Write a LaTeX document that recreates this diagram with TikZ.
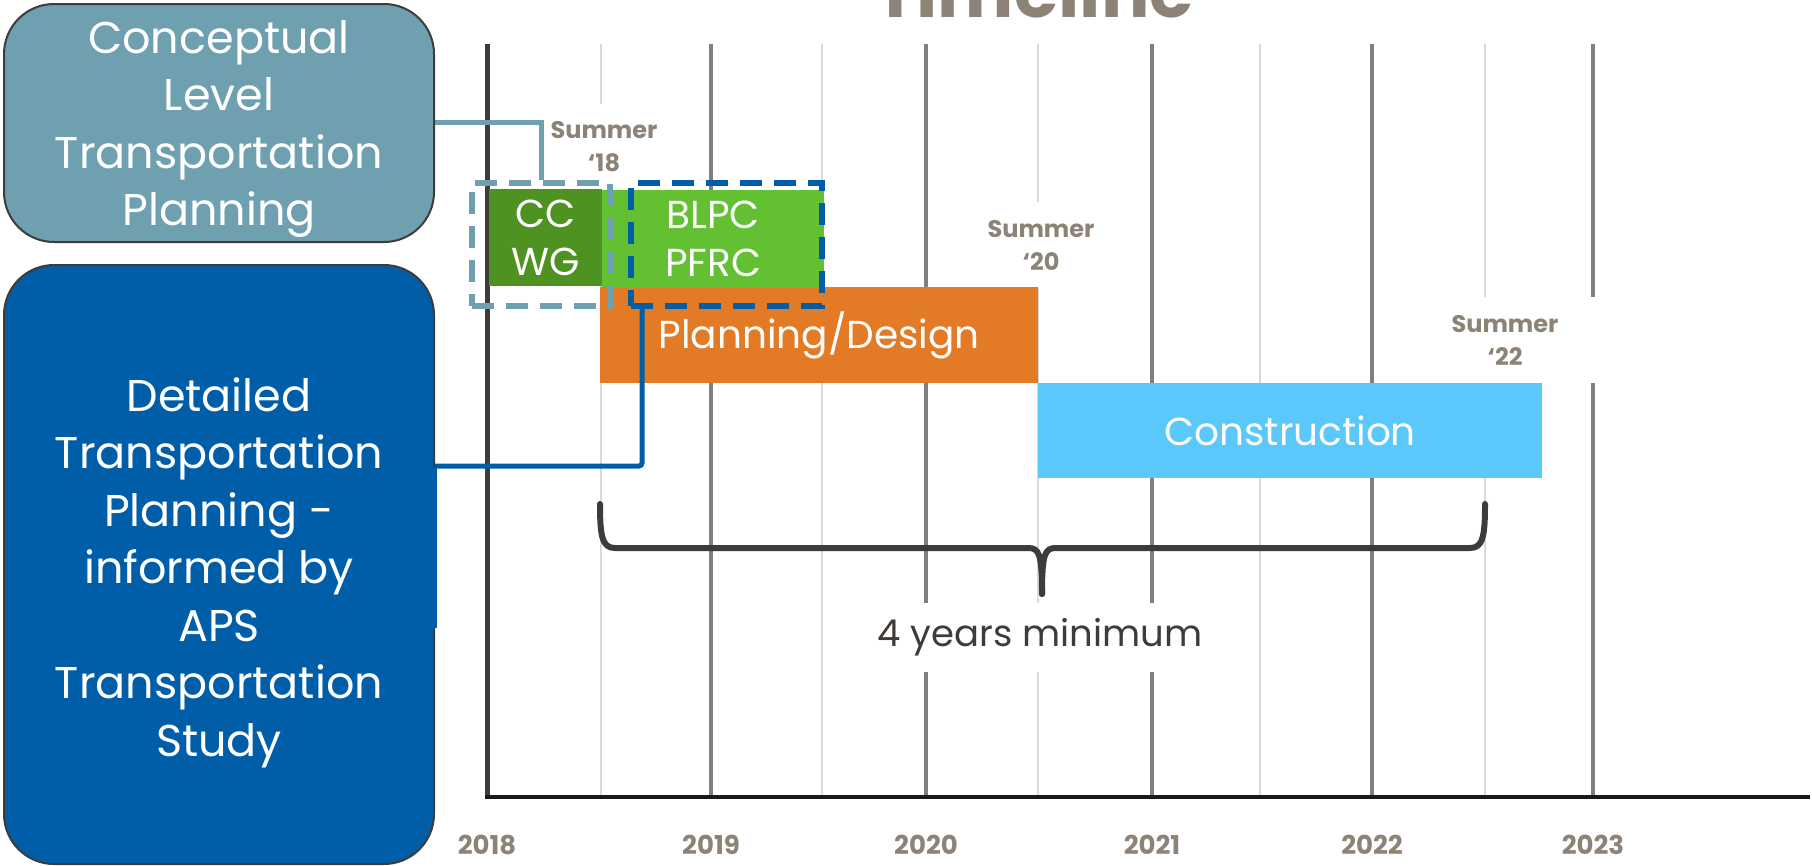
\documentclass[tikz,border=0pt]{standalone}
\usepackage{fontspec}
\setmainfont{Poppins}
\usepackage{tikz}

\definecolor{conceptteal}{HTML}{6FA0AF}
\definecolor{detailblue}{HTML}{005EA8}
\definecolor{ccgreen}{HTML}{4E9222}
\definecolor{blgreen}{HTML}{62C032}
\definecolor{planorange}{HTML}{E37A25}
\definecolor{constrcyan}{HTML}{5BC8FC}
\definecolor{labelgray}{HTML}{8C8276}
\definecolor{yeargray}{HTML}{7F7F7F}
\definecolor{halfgray}{HTML}{D9D9D9}
\definecolor{darkline}{HTML}{3F3B38}

\begin{document}
\begin{tikzpicture}[x=1pt,y=-1pt,
  sidebox/.style={draw=darkline, line width=2, rounded corners=50, minimum width=430,
    anchor=north west, inner sep=0},
  sidetext/.style={text=white, align=center, inner sep=0, font=\fontsize{44.5}{57.5}\selectfont},
  bar/.style={text=white, align=center, anchor=north west, inner sep=0,
    font=\fontsize{39}{48}\selectfont},
  dashframe/.style={line width=6, dash pattern=on 22pt off 12pt, anchor=north west, inner sep=0},
  summer/.style={fill=white, text=labelgray, align=center, inner sep=0, minimum width=190,
    minimum height=86, font=\bfseries\fontsize{24}{33}\selectfont},
  yearlbl/.style={text=labelgray, font=\bfseries\fontsize{26}{30}\selectfont},
  conn/.style={line width=5},
  spanbrace/.style={draw=darkline, line width=6, line cap=round, line join=round}]
\useasboundingbox (0,0) rectangle (1812,865);

% title, cut by the page edge
\node[anchor=base, text=labelgray, font=\bfseries\fontsize{72}{80}\selectfont] (title) at (1034,17) {Timeline};

% grid
\foreach \x in {601,822,1038,1260,1485}
  \draw[halfgray, line width=1.5] (\x,44) -- (\x,797);
\foreach \x/\yr in {711/2019,926/2020,1152/2021,1372/2022,1593/2023} {
  \draw[yeargray, line width=4] (\x,44) -- (\x,797);
  \node[yearlbl] (y\yr) at (\x,845) {\yr};
}
\draw[darkline, line width=5] (487,44) -- (487,797);
\node[yearlbl] (y2018) at (487,845) {2018};
\draw[black!90, line width=4.5] (485,797) -- (1810,797);

% milestones
\node[summer] (s18) at (604,147) {Summer\\‘18};
\node[summer] (s20) at (1041,245) {Summer\\‘20};
\node[summer] (s22) at (1505,340) {Summer\\‘22};

% bars
\node[bar, fill=ccgreen, minimum width=113, minimum height=97] (ccwg) at (489,189) {CC\\WG};
\node[bar, fill=blgreen, minimum width=222, minimum height=97] (blpc) at (602,190) {BLPC\\PFRC};
\node[bar, fill=planorange, minimum width=438, minimum height=96] (plandes) at (600,287) {Planning/Design};
\node[bar, fill=constrcyan, minimum width=504, minimum height=95] (constr) at (1038,383) {Construction};

% dashed groups
\node[dashframe, draw=conceptteal, minimum width=138, minimum height=123] (ccframe) at (469,180) {};
\node[dashframe, draw=detailblue, minimum width=191, minimum height=123] (blframe) at (628,180) {};

% links to the side boxes
\coordinate (dlink) at (433,466);
\draw[conn, conceptteal] (433,122) -| (ccframe.north);
\draw[conn, detailblue, rounded corners=3] ([xshift=14pt]blframe.south west) |- (dlink);

\node[sidebox, fill=conceptteal, minimum height=238] (concept) at (3,3) {};
\node[sidetext] (concepttxt) at ([yshift=-6pt]concept.center)
  {Conceptual\\Level\\Transportation\\Planning};
\node[sidebox, fill=detailblue, minimum height=599] (detail) at (3,264) {};
\fill[detailblue] (428,468) rectangle (437,628);
\node[sidetext] (detailtxt) at ([yshift=-8pt]detail.center)
  {Detailed\\Transportation\\Planning -\\informed by\\APS\\Transportation\\Study};

% span
\draw[spanbrace] (600,504) .. controls (600,536) and (602,548) .. (615,548) -- (1028,548)
  .. controls (1039,548) and (1042,553) .. (1042,594);
\draw[spanbrace] (1485,504) .. controls (1485,536) and (1483,548) .. (1470,548) -- (1056,548)
  .. controls (1045,548) and (1042,553) .. (1042,594);
\node[fill=white, text=darkline, minimum width=340, minimum height=69, inner sep=0,
  font=\fontsize{37}{40}\selectfont] (span) at (1040,637) {4 years minimum};
\end{tikzpicture}
\end{document}
